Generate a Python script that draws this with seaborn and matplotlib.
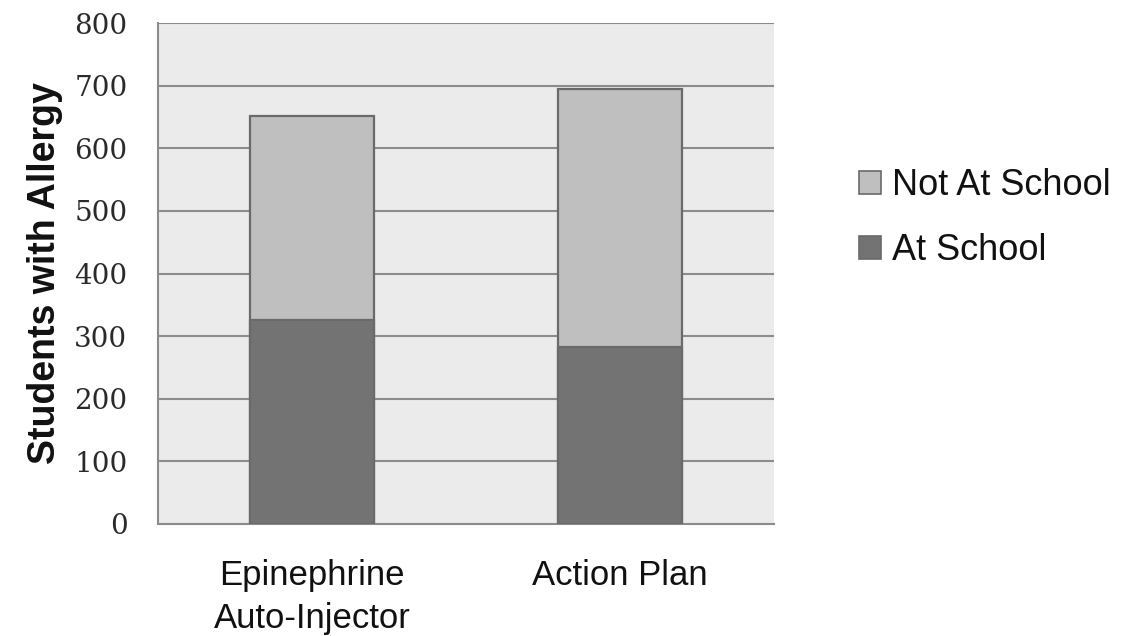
import matplotlib
matplotlib.use("Agg")
import matplotlib.pyplot as plt
import seaborn as sns
import numpy as np
from matplotlib.patches import Patch

# Data
categories = ["Epinephrine\nAuto-Injector", "Action Plan"]
at_school = [326, 283]
not_at_school = [326, 411]
series_names = ["Not At School", "At School"]
y_ticks = [0, 100, 200, 300, 400, 500, 600, 700, 800]

light = "#bfbfbf"
dark = "#737373"
edge = "#6a6a6a"
grid_c = "#8c8c8c"

sns.set_style("white")
plt.rcParams["font.family"] = ["Liberation Sans", "DejaVu Sans"]

fig = plt.figure(figsize=(11.27, 6.36), dpi=100)
ax = fig.add_axes([158 / 1127, 1 - 524 / 636, (774 - 158) / 1127, (524 - 23) / 636])
ax.set_facecolor("#ebebeb")

totals = [a + b for a, b in zip(at_school, not_at_school)]

# stacked bars: full height in light grey, lower segment in dark grey
sns.barplot(x=categories, y=totals, color=light, saturation=1, width=0.4,
            edgecolor=edge, linewidth=1.6, ax=ax, zorder=3)
sns.barplot(x=categories, y=at_school, color=dark, saturation=1, width=0.4,
            edgecolor=edge, linewidth=1.6, ax=ax, zorder=4)

ax.set_xlim(-0.5, 1.5)
ax.set_ylim(0, 800)
ax.set_yticks(y_ticks)
ax.set_yticklabels([str(v) for v in y_ticks], fontfamily="DejaVu Serif",
                   fontsize=20, color="#2a2a2a")
for v in y_ticks[1:]:
    ax.axhline(v, color=grid_c, lw=1.5, zorder=1)

# category labels centered, tick marks between categories
ax.set_xticks(range(len(categories)))
ax.set_xticklabels(categories, fontsize=25, color="#111111", linespacing=1.4)
ax.tick_params(axis="x", which="major", length=0, pad=25)
ax.set_xticks([-0.5, 0.5, 1.5], minor=True)
ax.tick_params(axis="x", which="minor", length=8, width=1.5, color=grid_c, direction="out")
ax.tick_params(axis="y", length=10, width=1.5, color=grid_c, direction="out", pad=12)

for s in ["top", "right"]:
    ax.spines[s].set_visible(False)
for s in ["left", "bottom"]:
    ax.spines[s].set_color(grid_c)
    ax.spines[s].set_linewidth(1.5)

ax.set_xlabel("")
ax.set_ylabel("Students with Allergy", fontsize=27, fontweight="bold",
              color="#111111", labelpad=8)

handles = [Patch(facecolor=light, edgecolor=edge, linewidth=1.2),
           Patch(facecolor=dark, edgecolor=edge, linewidth=1.2)]
fig.legend(handles, series_names, loc="center left",
           bbox_to_anchor=(841 / 1127, 1 - 218 / 636), frameon=False,
           fontsize=26, handlelength=0.6, handleheight=0.6,
           handletextpad=0.3, labelspacing=0.82, borderpad=0,
           labelcolor="#111111")

fig.savefig("out.png", dpi=100)
